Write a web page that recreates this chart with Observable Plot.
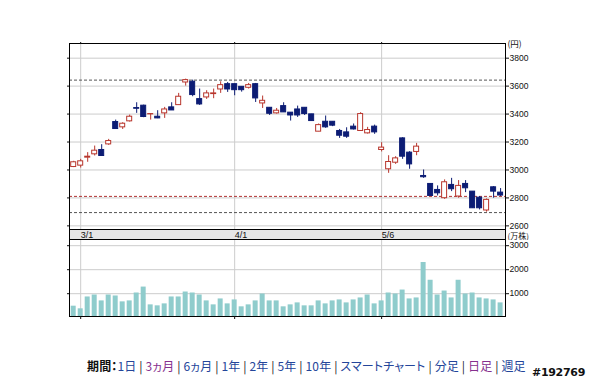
<!DOCTYPE html>
<html><head><meta charset="utf-8">
<script src="https://cdn.jsdelivr.net/npm/d3@7"></script>
<script src="https://cdn.jsdelivr.net/npm/@observablehq/plot@0.6"></script>
<style>
html,body{margin:0;padding:0;background:#fff}
body{width:589px;height:382px;overflow:hidden;position:relative}
#price,#strip,#vol{position:absolute;left:0;line-height:0}
#price{top:0}
#strip{top:229px}
#vol{top:239px}
#footer{position:absolute;left:87px;top:358px;font-family:"Noto Sans CJK JP",sans-serif;font-size:12px;line-height:16px;white-space:nowrap;color:#222;font-feature-settings:"palt";letter-spacing:0.15px}
#footer b{color:#111}
#footer .b{color:#24459a}
#footer .p{color:#86308e}
#code{position:absolute;left:532px;top:366px;font-family:"DejaVu Sans",sans-serif;font-weight:bold;font-size:11px;line-height:14px;color:#111;letter-spacing:-0.3px}
</style></head><body>
<div id="price"></div><div id="strip"></div><div id="vol"></div>
<div id="footer"><b>期間：</b><span class="b">1日</span> | <span class="p">3ヵ月</span> | <span class="b">6ヵ月</span> | <span class="b">1年</span> | <span class="b">2年</span> | <span class="b">5年</span> | <span class="b">10年</span> | <span class="b">スマートチャート</span> | <span class="b">分足</span> | <span class="p">日足</span> | <span class="b">週足</span></div>
<div id="code">#192769</div>
<script>
// ---- data (price in 円, volume in 万株) ----
const open  = [3021,3031,3088,3112,3143,3183,3343,3305,3348,3443,3460,3398,3381,3405,3448,3464,3626,3631,3507,3519,3543,3576,3614,3614,3595,3588,3614,3476,3445,3405,3457,3410,3433,3445,3398,3274,3345,3345,3279,3269,3310,3279,3262,3310,3143,3005,3052,3226,3124,3129,2957,2900,2857,2798,2893,2810,2900,2845,2802,2710,2876,2838];
const high  = [3062,3076,3124,3171,3181,3219,3357,3338,3393,3481,3464,3402,3424,3448,3481,3548,3650,3643,3579,3567,3579,3631,3626,3614,3595,3619,3619,3529,3445,3440,3481,3410,3457,3445,3398,3329,3386,3345,3290,3302,3329,3410,3305,3321,3195,3102,3095,3231,3131,3190,3000,2900,2886,2929,2940,2924,2924,2845,2810,2793,2881,2867];
const low   = [3017,3014,3055,3100,3100,3176,3293,3290,3343,3405,3374,3357,3367,3369,3426,3464,3600,3524,3462,3505,3510,3548,3555,3531,3557,3579,3483,3440,3390,3400,3412,3350,3376,3390,3350,3274,3298,3310,3226,3226,3286,3279,3257,3255,3129,2976,3040,3076,3005,3102,2940,2810,2814,2790,2845,2798,2838,2726,2714,2698,2798,2810];
const close = [3055,3062,3095,3138,3100,3207,3293,3331,3381,3438,3379,3400,3369,3433,3426,3524,3643,3536,3469,3548,3548,3607,3576,3571,3571,3607,3512,3495,3402,3424,3412,3390,3390,3400,3350,3321,3305,3317,3245,3238,3290,3400,3286,3269,3160,3057,3083,3095,3040,3167,2948,2814,2833,2912,2862,2886,2869,2726,2726,2786,2845,2817];
const volume = [480,370,864,946,700,946,905,660,700,1029,1276,535,494,576,864,864,1070,1029,946,700,535,782,576,741,453,535,700,988,700,700,453,535,617,494,494,700,576,700,741,617,741,823,946,576,700,1029,988,1152,782,823,2300,1560,946,1111,823,1560,988,1029,823,782,741,617];
const monthIdx = [1, 23, 44];
const monthLabels = ["3/1", "4/1", "5/6"];
const priceTicks = [2600, 2800, 3000, 3200, 3400, 3600, 3800];
const volTicks = [1000, 2000, 3000];
const refLines = [3643, 2811, 2695];
const refColors = ["#555555", "#b03030", "#555555"];

const rows = open.map((o, i) => ({i, open: o, high: high[i], low: low[i], close: close[i], vol: volume[i], up: close[i] >= o}));

const RED = "#b8352c", NAVY = "#0c1c74", GRID = "#cccccc";
const W = 589, ML = 69, MR = 84;
const xDomain = [-0.6, 61.7];
const plain = d => String(d);
const axisFont = {fontFamily: "'Liberation Sans', Arial, sans-serif", fontSize: "8.5px", background: "transparent", color: "#111"};

const price = Plot.plot({
  width: W, height: 230, marginLeft: ML, marginRight: MR, marginTop: 43, marginBottom: 1,
  x: {domain: xDomain, axis: null},
  y: {domain: [2574, 3905], axis: null},
  style: axisFont,
  marks: [
    Plot.gridY(priceTicks, {stroke: GRID, strokeOpacity: 1}),
    Plot.gridX(monthIdx, {stroke: GRID, strokeOpacity: 1}),
    Plot.ruleY(refLines, {y: d => d, stroke: (d, k) => refColors[k], strokeDasharray: "3,2"}),
    Plot.ruleX(rows, {x: "i", y1: "low", y2: "high", stroke: d => d.up ? RED : NAVY}),
    Plot.rect(rows, {x1: d => d.i - 0.5, x2: d => d.i + 0.5, insetLeft: 1, insetRight: 1,
      y1: "open", y2: "close", fill: d => d.up ? "white" : NAVY, stroke: d => d.up ? RED : NAVY}),
    Plot.frame({stroke: "black"}),
    Plot.axisY(priceTicks, {anchor: "right", tickSize: 3, tickPadding: 1, label: null, textAnchor: "start", tickFormat: plain}),
    Plot.axisY(priceTicks, {anchor: "left", tickSize: 2, label: null, tickFormat: () => ""}),
    Plot.axisX(monthIdx, {anchor: "top", tickSize: 2, label: null, tickFormat: () => ""}),
    Plot.text(["(円)"], {frameAnchor: "top-right", textAnchor: "start", lineAnchor: "middle", dx: 2, dy: 1,
      fontFamily: "'Noto Sans CJK JP', sans-serif", fontSize: 8.5})
  ]
});
document.getElementById("price").appendChild(price);

const strip = Plot.plot({
  width: W, height: 11, marginLeft: ML, marginRight: MR, marginTop: 0, marginBottom: 1,
  x: {domain: xDomain, axis: null},
  y: {axis: null},
  style: axisFont,
  marks: [
    Plot.frame({fill: "#e6e6e6", stroke: "black"}),
    Plot.text(monthIdx, {x: d => d, text: (d, k) => monthLabels[k], frameAnchor: "middle", textAnchor: "start", dx: 0, dy: 0.5, fontSize: 9}),
    Plot.text(["(万株)"], {frameAnchor: "right", textAnchor: "start", dx: 2, dy: 2.2,
      fontFamily: "'Noto Sans CJK JP', sans-serif", fontSize: 8})
  ]
});
document.getElementById("strip").appendChild(strip);

const vol = Plot.plot({
  width: W, height: 81, marginLeft: ML, marginRight: MR, marginTop: 0, marginBottom: 4,
  x: {domain: xDomain, axis: null},
  y: {domain: [50, 3258], axis: null},
  style: axisFont,
  marks: [
    Plot.gridY(volTicks, {stroke: GRID, strokeOpacity: 1}),
    Plot.gridX(monthIdx, {stroke: GRID, strokeOpacity: 1}),
    Plot.rectY(rows, {x1: d => d.i - 0.5, x2: d => d.i + 0.5, insetLeft: 1, insetRight: 1, y: "vol", fill: "#8fcccc", clip: true}),
    Plot.frame({stroke: "black"}),
    Plot.axisY(volTicks, {anchor: "right", tickSize: 3, tickPadding: 1, label: null, textAnchor: "start", tickFormat: plain}),
    Plot.axisY(volTicks, {anchor: "left", tickSize: 2, label: null, tickFormat: () => ""}),
    Plot.axisX(monthIdx, {anchor: "bottom", tickSize: 3, label: null, tickFormat: () => ""})
  ]
});
document.getElementById("vol").appendChild(vol);
</script>
</body></html>
